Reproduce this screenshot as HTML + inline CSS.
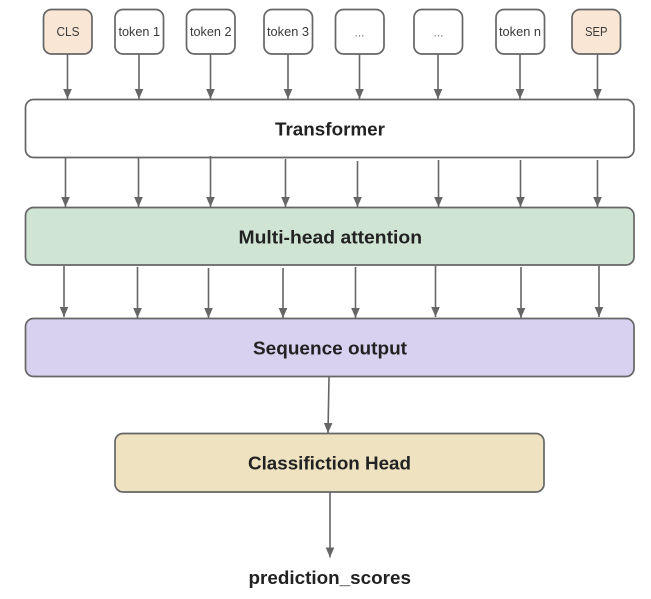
<!DOCTYPE html>
<html>
<head>
<meta charset="utf-8">
<style>
html,body{margin:0;padding:0;background:#fff;width:651px;height:599px;overflow:hidden}
svg{display:block;filter:blur(.35px)}
text{font-family:"Liberation Sans",sans-serif;fill:#3a3a3a;text-anchor:start}
.t{font-size:13px}
.b{font-size:18.5px;font-weight:700;fill:#222}
.n{fill:#fff;stroke:#666;stroke-width:1.7}
.l{stroke:#666;stroke-width:1.6;fill:none}
</style>
</head>
<body>
<svg width="651" height="599" viewBox="0 0 651 599" xmlns="http://www.w3.org/2000/svg">
<defs>
<marker id="h" markerUnits="userSpaceOnUse" markerWidth="11" markerHeight="10" refX="10" refY="5" orient="auto"><path d="M0 0.7L10 5L0 9.3Z" fill="#666"/></marker>
</defs>

<!-- token nodes -->
<rect class="n" x="43.5" y="9.5" width="48.5" height="44.5" rx="8" style="fill:#f9e6d5"/>
<rect class="n" x="115" y="9.5" width="48.5" height="44.5" rx="8"/>
<rect class="n" x="186.5" y="9.5" width="48.5" height="44.5" rx="8"/>
<rect class="n" x="264" y="9.5" width="48.5" height="44.5" rx="8"/>
<rect class="n" x="335.5" y="9.5" width="48.5" height="44.5" rx="8"/>
<rect class="n" x="414" y="9.5" width="48.5" height="44.5" rx="8"/>
<rect class="n" x="496" y="9.5" width="48.5" height="44.5" rx="8"/>
<rect class="n" x="572" y="9.5" width="48.5" height="44.5" rx="8" style="fill:#f9e6d5"/>

<text class="t" x="56.5" y="36" textLength="23" lengthAdjust="spacingAndGlyphs">CLS</text>
<text class="t" x="118.5" y="36" textLength="41.5" lengthAdjust="spacingAndGlyphs">token 1</text>
<text class="t" x="190" y="36" textLength="41.5" lengthAdjust="spacingAndGlyphs">token 2</text>
<text class="t" x="267" y="36" textLength="42" lengthAdjust="spacingAndGlyphs">token 3</text>
<text class="t" x="354.5" y="36.5" textLength="10" lengthAdjust="spacingAndGlyphs" style="fill:#777">...</text>
<text class="t" x="433.5" y="36.5" textLength="10" lengthAdjust="spacingAndGlyphs" style="fill:#777">...</text>
<text class="t" x="499" y="36" textLength="42" lengthAdjust="spacingAndGlyphs">token n</text>
<text class="t" x="585" y="36" textLength="22.5" lengthAdjust="spacingAndGlyphs">SEP</text>

<!-- row 1 arrows -->
<g class="l">
<line x1="67.5" y1="54" x2="67.5" y2="99" marker-end="url(#h)"/>
<line x1="139" y1="54" x2="139" y2="99" marker-end="url(#h)"/>
<line x1="210.5" y1="54" x2="210.5" y2="99" marker-end="url(#h)"/>
<line x1="288" y1="54" x2="288" y2="99" marker-end="url(#h)"/>
<line x1="359.5" y1="54" x2="359.5" y2="99" marker-end="url(#h)"/>
<line x1="438" y1="54" x2="438" y2="99" marker-end="url(#h)"/>
<line x1="520" y1="54" x2="520" y2="99" marker-end="url(#h)"/>
<line x1="597.5" y1="54" x2="597.5" y2="99" marker-end="url(#h)"/>
</g>

<!-- layers -->
<rect class="n" x="25.5" y="99.5" width="608.5" height="58" rx="8"/>
<rect class="n" x="25.5" y="207.5" width="608.5" height="57.5" rx="8" style="fill:#d0e4d3"/>
<rect class="n" x="25.5" y="318.5" width="608.5" height="58" rx="8" style="fill:#d8d1f0"/>
<rect class="n" x="115" y="433.5" width="429" height="58.5" rx="8" style="fill:#efe2c1"/>

<text class="b" x="275" y="135.5" textLength="110" lengthAdjust="spacingAndGlyphs">Transformer</text>
<text class="b" x="238.5" y="243.5" textLength="183.5" lengthAdjust="spacingAndGlyphs">Multi-head attention</text>
<text class="b" x="253" y="354.5" textLength="154" lengthAdjust="spacingAndGlyphs">Sequence output</text>
<text class="b" x="248" y="469.5" textLength="163" lengthAdjust="spacingAndGlyphs">Classifiction Head</text>
<text class="b" x="248.5" y="584" textLength="162.5" lengthAdjust="spacingAndGlyphs">prediction_scores</text>

<!-- row 2 arrows -->
<g class="l">
<line x1="65.5" y1="157" x2="65.5" y2="207" marker-end="url(#h)"/>
<line x1="138.5" y1="158" x2="138.5" y2="207" marker-end="url(#h)"/>
<line x1="210.5" y1="156" x2="210.5" y2="207" marker-end="url(#h)"/>
<line x1="285.5" y1="159" x2="285.5" y2="207" marker-end="url(#h)"/>
<line x1="357.5" y1="161" x2="357.5" y2="207" marker-end="url(#h)"/>
<line x1="438.5" y1="160" x2="438.5" y2="207" marker-end="url(#h)"/>
<line x1="520.5" y1="160" x2="520.5" y2="207" marker-end="url(#h)"/>
<line x1="597.5" y1="160" x2="597.5" y2="207" marker-end="url(#h)"/>
</g>

<!-- row 3 arrows -->
<g class="l">
<line x1="64" y1="266" x2="64" y2="317" marker-end="url(#h)"/>
<line x1="137.5" y1="267" x2="137.5" y2="318" marker-end="url(#h)"/>
<line x1="208.5" y1="268" x2="208.5" y2="318" marker-end="url(#h)"/>
<line x1="283" y1="268" x2="283" y2="318" marker-end="url(#h)"/>
<line x1="355.5" y1="267" x2="355.5" y2="318" marker-end="url(#h)"/>
<line x1="435.5" y1="266" x2="435.5" y2="317" marker-end="url(#h)"/>
<line x1="521" y1="267" x2="521" y2="318" marker-end="url(#h)"/>
<line x1="599" y1="266" x2="599" y2="317" marker-end="url(#h)"/>
</g>

<!-- bottom arrows -->
<g class="l">
<line x1="329" y1="377" x2="328" y2="433" marker-end="url(#h)"/>
<line x1="330" y1="492" x2="330" y2="557.5" marker-end="url(#h)"/>
</g>
</svg>
</body>
</html>
